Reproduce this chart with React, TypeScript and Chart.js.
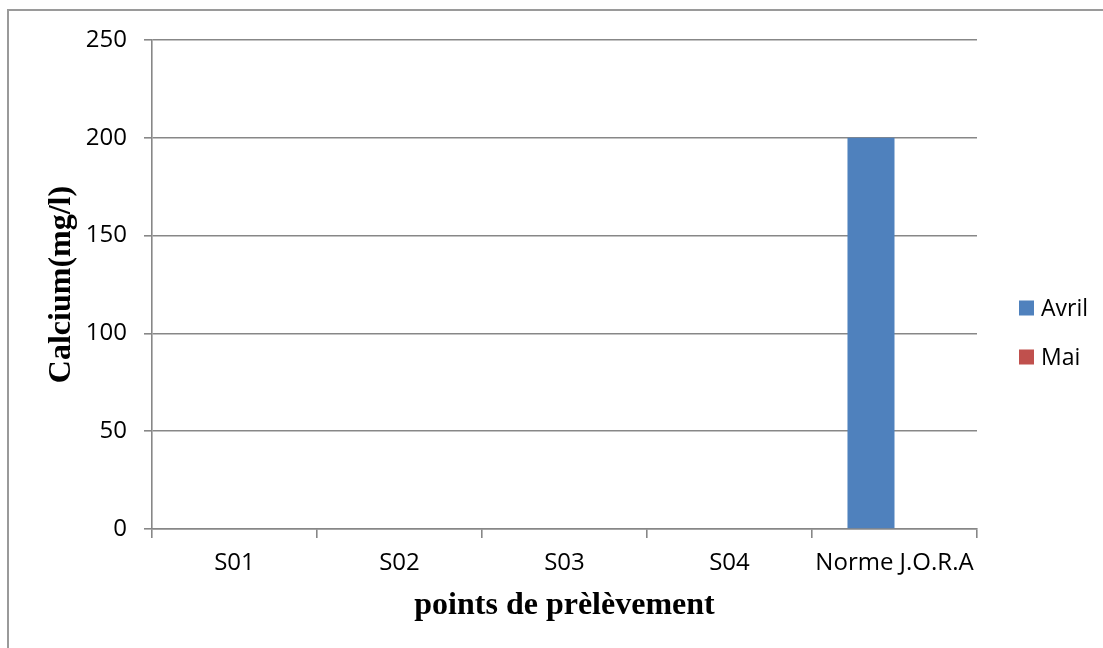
import React, { useEffect, useRef } from "react";
import { Chart, registerables } from "chart.js";

Chart.register(...registerables);

const categories = ["S01", "S02", "S03", "S04", "Norme J.O.R.A"];
const avrilValues = [0, 0, 0, 0, 200];
const maiValues = [0, 0, 0, 0, 0];
const seriesNames = ["Avril", "Mai"];
const seriesColors = ["#4F81BD", "#C0504D"];
const yTicks = [0, 50, 100, 150, 200, 250];

const GRID = "#878787";

const sideLegend = {
  id: "sideLegend",
  afterDraw(chart: any) {
    const ctx = chart.ctx;
    ctx.save();
    ctx.font = "23px 'Open Sans'";
    ctx.textBaseline = "middle";
    ctx.textAlign = "left";
    chart.data.datasets.forEach((ds: any, i: number) => {
      const cy = 308 + i * 49;
      ctx.fillStyle = ds.backgroundColor;
      ctx.fillRect(1019, cy - 7.5, 15, 15);
      ctx.fillStyle = "#000";
      ctx.fillText(ds.label, 1041, cy + 1);
    });
    ctx.restore();
  },
};

export default function App() {
  const ref = useRef<HTMLCanvasElement>(null);
  useEffect(() => {
    if (!ref.current) return;
    const chart = new Chart(ref.current, {
      type: "bar",
      data: {
        labels: categories,
        datasets: [
          { label: seriesNames[0], data: avrilValues, backgroundColor: seriesColors[0] },
          { label: seriesNames[1], data: maiValues, backgroundColor: seriesColors[1] },
        ],
      },
      options: {
        animation: false,
        responsive: false,
        maintainAspectRatio: false,
        layout: { padding: { left: 0, top: 40, right: 126, bottom: 0 } },
        datasets: { bar: { categoryPercentage: 0.57, barPercentage: 1, borderWidth: 0 } },
        plugins: { legend: { display: false }, tooltip: { enabled: false } },
        scales: {
          x: {
            afterFit: (s: any) => { s.height = 119; },
            grid: { display: true, drawOnChartArea: false, drawTicks: true, tickLength: 9, color: GRID, lineWidth: 1.6, offset: true },
            border: { display: true, color: GRID, width: 1.6 },
            ticks: { color: "#000", font: { family: "'Open Sans'", size: 24 }, padding: 11, maxRotation: 0 },
            title: {
              display: true,
              text: "points de prèlèvement",
              color: "#000",
              font: { family: "'Liberation Serif'", size: 32, weight: "bold" },
              padding: { top: 0, bottom: 23 },
            },
          },
          y: {
            min: 0,
            max: 250,
            afterFit: (s: any) => { s.width = 152; },
            afterBuildTicks: (s: any) => { s.ticks = yTicks.map((v) => ({ value: v })); },
            grid: { color: GRID, lineWidth: 1.6, tickLength: 8, drawTicks: true },
            border: { display: true, color: GRID, width: 1.6 },
            ticks: { color: "#000", font: { family: "'Open Sans'", size: 24 }, padding: 17 },
            title: {
              display: true,
              text: "Calcium(mg/l)",
              color: "#000",
              font: { family: "'Liberation Serif'", size: 32, weight: "bold" },
              padding: { top: 43, bottom: 0 },
            },
          },
        },
      },
      plugins: [sideLegend],
    });
    return () => chart.destroy();
  }, []);

  return (
    <div style={{ position: "fixed", left: 0, top: 0, width: 1103, height: 648, background: "#fff", overflow: "hidden" }}>
      <div
        style={{
          position: "absolute",
          left: 7,
          top: 9,
          width: 1200,
          height: 800,
          borderLeft: "2px solid #9a9a9a",
          borderTop: "2px solid #9a9a9a",
        }}
      />
      <canvas ref={ref} width={1103} height={648} style={{ position: "absolute", left: 0, top: 0 }} />
    </div>
  );
}
